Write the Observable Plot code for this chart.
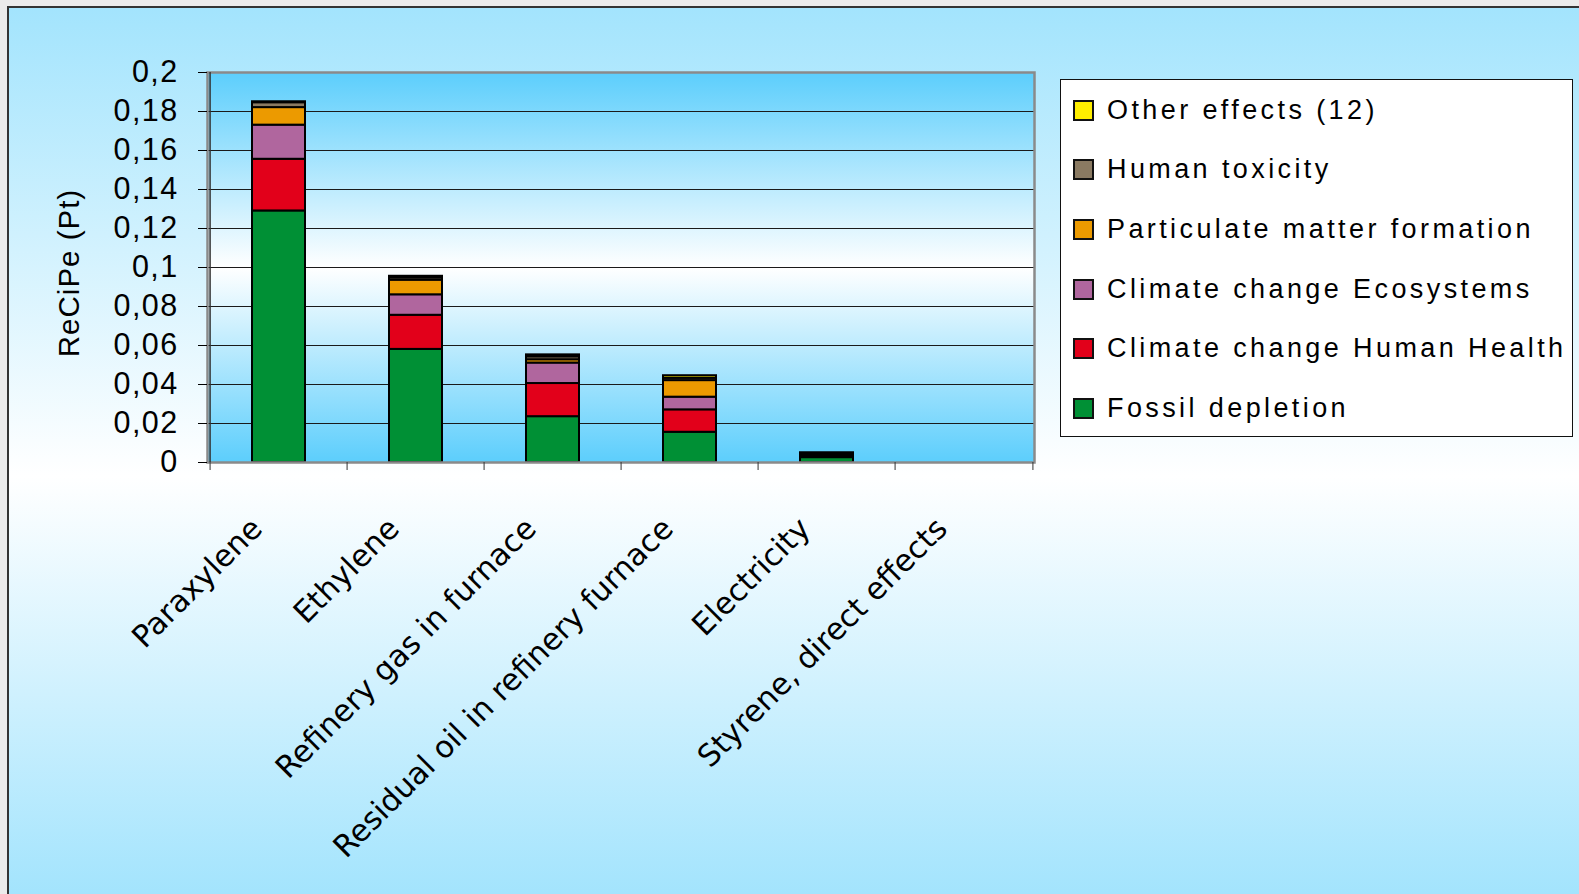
<!DOCTYPE html>
<html>
<head>
<meta charset="utf-8">
<script src="https://cdn.jsdelivr.net/npm/d3@7"></script>
<script src="https://cdn.jsdelivr.net/npm/@observablehq/plot@0.6"></script>
<style>
  html, body { margin: 0; padding: 0; background: #ebebeb; }
  #wrap { position: relative; width: 1579px; height: 894px; overflow: hidden; }
  #frame { position: absolute; left: 7px; top: 6px; width: 1580px; height: 900px;
    border-left: 2px solid #333; border-top: 2px solid #333;
    background: linear-gradient(to bottom, #a3e4fd 0%, #ffffff 52%, #a0e3fd 100%); }
  #chart { position: absolute; left: 0; top: 0; }
  #legend { position: absolute; left: 1060px; top: 79px; width: 513px; height: 358px;
    background: #fff; border: 1.5px solid #111; box-sizing: border-box;
    font-family: "Liberation Sans", Arial, sans-serif; font-size: 27px; letter-spacing: 3.4px; color: #000; }
  .item { position: absolute; left: 12px; height: 30px; display: flex; align-items: center; }
  .sw { width: 17px; height: 17px; border: 2px solid #111; margin-right: 13px; }
</style>
</head>
<body>
<div id="wrap">
  <div id="frame"></div>
  <div id="chart"></div>
  <div id="legend"></div>
</div>
<script>
const categories = ["Paraxylene", "Ethylene", "Refinery gas in furnace", "Residual oil in refinery furnace", "Electricity", "Styrene, direct effects"];
const seriesNames = ["Fossil depletion", "Climate change Human Health", "Climate change Ecosystems", "Particulate matter formation", "Human toxicity", "Other effects (12)"];
const seriesColors = ["#009035", "#e2001a", "#b0669e", "#ec9a00", "#8a7a62", "#ffee00"];

const fossilDepletion   = [0.1290, 0.0580, 0.0235, 0.0155, 0.0025, 0];
const ccHumanHealth     = [0.0265, 0.0175, 0.0170, 0.0115, 0.0005, 0];
const ccEcosystems      = [0.0175, 0.0105, 0.0105, 0.0065, 0.0004, 0];
const particulateMatter = [0.0090, 0.0075, 0.0017, 0.0085, 0.0006, 0];
const humanToxicity     = [0.0025, 0.0012, 0.0015, 0.0012, 0.0006, 0];
const otherEffects      = [0.0005, 0.0008, 0.0010, 0.0013, 0.0004, 0];
const seriesValues = [fossilDepletion, ccHumanHealth, ccEcosystems, particulateMatter, humanToxicity, otherEffects];

const yTicks = [0, 0.02, 0.04, 0.06, 0.08, 0.1, 0.12, 0.14, 0.16, 0.18, 0.2];
const yTickLabels = ["0", "0,02", "0,04", "0,06", "0,08", "0,1", "0,12", "0,14", "0,16", "0,18", "0,2"];
const yLabel = "ReCiPe (Pt)";

const rows = categories.flatMap((c, i) => seriesNames.map((s, j) => ({category: c, series: s, value: seriesValues[j][i]})));

const W = 1579, H = 894;
const mL = 207, mR = W - 1034, mT = 72, mB = H - 462;
const step = (W - mL - mR) / categories.length;

const svg = Plot.plot({
  width: W, height: H,
  marginLeft: mL, marginRight: mR, marginTop: mT, marginBottom: mB,
  style: "background: transparent; overflow: visible;",
  x: {domain: categories, padding: 0, axis: null},
  y: {domain: [0, 0.2], axis: null},
  color: {domain: seriesNames, range: seriesColors},
  marks: [
    Plot.frame({fill: "url(#plotGrad)", stroke: "none"}),
    Plot.gridY(yTicks, {stroke: "#1a1a1a", strokeOpacity: 1, strokeWidth: 1.2}),
    Plot.barY(rows, {x: "category", y: "value", fill: "series", stroke: "#000", strokeWidth: 2, insetLeft: 42, insetRight: 42}),
    Plot.frame({stroke: "#8a8a8a", strokeWidth: 2.5}),
    Plot.ruleX([categories[0]], {dx: -step / 2, y1: 0, y2: 0.2, stroke: "#333", strokeWidth: 1.5}),
    Plot.axisY({ticks: yTicks, tickFormat: d => yTickLabels[yTicks.indexOf(d)], tickSize: 9, tickPadding: 20,
      fontSize: 30.5, fontFamily: "Liberation Sans, Arial, sans-serif", stroke: "#000", label: null}),
    Plot.axisX({ticks: categories, tickFormat: () => "", tickSize: 8, dx: -step / 2, stroke: "#333", label: null}),
    Plot.axisX({ticks: [categories[categories.length - 1]], tickFormat: () => "", tickSize: 8, dx: step / 2, stroke: "#333", label: null}),
    Plot.axisX({ticks: categories, tickSize: 0, tickPadding: 0, tickRotate: -45, dx: -22, dy: 61,
      fontSize: 30.5, fontFamily: "DejaVu Sans, sans-serif", label: null})
  ]
});

// gradient for plot area
const defs = d3.select(svg).insert("defs", ":first-child");
const g = defs.append("linearGradient").attr("id", "plotGrad").attr("x1", 0).attr("y1", 0).attr("x2", 0).attr("y2", 1);
g.append("stop").attr("offset", "0%").attr("stop-color", "#5ccefc");
g.append("stop").attr("offset", "50%").attr("stop-color", "#ffffff");
g.append("stop").attr("offset", "100%").attr("stop-color", "#5ccefc");

// y-axis title
d3.select(svg).append("text")
  .attr("transform", `translate(69,273) rotate(-90)`)
  .attr("text-anchor", "middle").attr("dy", "0.35em")
  .attr("font-family", "Liberation Sans, Arial, sans-serif")
  .attr("font-size", 29.5).attr("letter-spacing", "1px").attr("fill", "#000")
  .text(yLabel);

d3.select(svg).selectAll("g[aria-label='y-axis tick label']").attr("letter-spacing", "1.4px");

document.getElementById("chart").appendChild(svg);

// legend (top to bottom: reverse of stack order)
const legend = d3.select("#legend");
const order = seriesNames.map((s, i) => i).reverse();
order.forEach((idx, k) => {
  const it = legend.append("div").attr("class", "item").style("top", (15 + k * 59.7) + "px");
  it.append("div").attr("class", "sw").style("background", seriesColors[idx]);
  it.append("span").text(seriesNames[idx]);
});
</script>
</body>
</html>
